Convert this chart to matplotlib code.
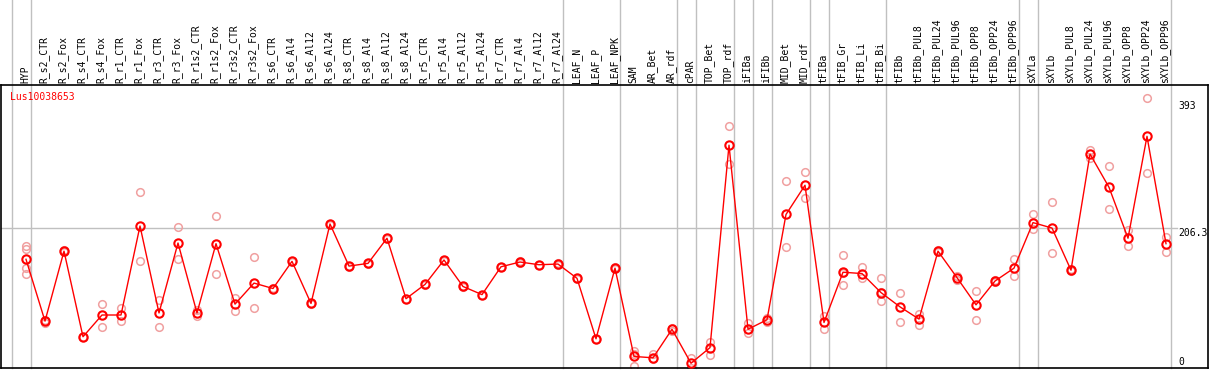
import numpy as np
import matplotlib
matplotlib.use('Agg')
import matplotlib.pyplot as plt
import matplotlib.transforms as mtransforms

# 样本名称
labels = ['HYP', 'R_s2_CTR', 'R_s2_Fox', 'R_s4_CTR', 'R_s4_Fox', 'R_r1_CTR', 'R_r1_Fox',
          'R_r3_CTR', 'R_r3_Fox', 'R_r1s2_CTR', 'R_r1s2_Fox', 'R_r3s2_CTR', 'R_r3s2_Fox',
          'R_s6_CTR', 'R_s6_Al4', 'R_s6_Al12', 'R_s6_Al24', 'R_s8_CTR', 'R_s8_Al4',
          'R_s8_Al12', 'R_s8_Al24', 'R_r5_CTR', 'R_r5_Al4', 'R_r5_Al12', 'R_r5_Al24',
          'R_r7_CTR', 'R_r7_Al4', 'R_r7_Al12', 'R_r7_Al24', 'LEAF_N', 'LEAF_P', 'LEAF_NPK',
          'SAM', 'AR_Bet', 'AR_rdf', 'cPAR', 'TOP_Bet', 'TOP_rdf', 'iFIBa', 'iFIBb',
          'MID_Bet', 'MID_rdf', 'tFIBa', 'tFIB_Gr', 'tFIB_Li', 'tFIB_Bi', 'tFIBb',
          'tFIBb_PUL8', 'tFIBb_PUL24', 'tFIBb_PUL96', 'tFIBb_OPP8', 'tFIBb_OPP24',
          'tFIBb_OPP96', 'sXYLa', 'sXYLb', 'sXYLb_PUL8', 'sXYLb_PUL24', 'sXYLb_PUL96',
          'sXYLb_OPP8', 'sXYLb_OPP24', 'sXYLb_OPP96']

# 平均值
means = [160, 69, 172, 46, 78, 78, 209, 81, 184, 81, 183, 94, 125,
         117, 157, 95, 212, 150, 154, 191, 102, 123, 159, 120, 108,
         149, 156, 152, 153, 132, 43, 147, 17, 15, 57, 7, 30, 328,
         57, 71, 226, 269, 67, 141, 139, 111, 90, 72, 172, 133, 93,
         128, 147, 214, 206, 144, 315, 266, 191, 341, 183]

# 重复样本
reps = [[180, 175, 147, 139], [70, 66], [173, 171], [46, 45], [94, 60], [88, 69],
        [259, 158], [100, 60], [207, 160], [85, 76], [224, 139], [103, 84], [163, 88],
        [118, 117], [158, 156], [96, 94], [212, 211], [150, 149], [155, 153], [192, 190],
        [102, 101], [124, 122], [159, 158], [121, 119], [108, 107], [149, 148], [157, 155],
        [152, 151], [154, 152], [133, 131], [43, 42], [148, 146], [25, 21, 3], [20, 13],
        [59, 55], [14, 0], [39, 19], [356, 301], [66, 51], [73, 68], [275, 178], [288, 250],
        [77, 58], [166, 140, 122], [149, 133], [132, 112, 98], [110, 67], [79, 64],
        [173, 171], [136, 130], [114, 71], [129, 127], [160, 135], [226, 204], [244, 169],
        [145, 143], [321, 309], [298, 234], [203, 179], [397, 287], [193, 171]]

# 分组分隔线 (在该索引之后)
group_ends = [-1, 0, 28, 31, 34, 35, 37, 38, 39, 41, 42, 45, 52, 53, 60]
gene = 'Lus10038653'
ymax_label = 393
ymid_label = 206.3

W, H = 1209, 370
fig = plt.figure(figsize=(W / 100, H / 100), dpi=100)
# 绘图区像素范围
left_px, right_px, top_px, bot_px = 1, 1208, 85, 368
ax = fig.add_axes([left_px / W, 1 - bot_px / H, (right_px - left_px) / W, (bot_px - top_px) / H])

x0, dx = 26, 19.0
ax.set_xlim((left_px - x0) / dx, (right_px - x0) / dx)
scale = ymax_label / 267.0
ax.set_ylim(0, (bot_px - top_px) * scale)

font = 'DejaVu Sans Mono'
x = np.arange(len(labels))

top_frac = bot_px / (bot_px - top_px)
for g in group_ends:
    ax.axvline(g + 0.247, ymin=0, ymax=top_frac, color='#c0c0c0', lw=1, clip_on=False, zorder=1)
ax.plot([ax.get_xlim()[0], 60.6], [ymid_label, ymid_label], color='#c0c0c0', lw=1, zorder=1)

for i, r in enumerate(reps):
    ax.plot([i] * len(r), r, 'o', ms=5.5, mfc='none', mec='#f0a0a0', mew=1.1, zorder=2)
ax.plot(x, means, '-', color='red', lw=1, zorder=3)
ax.plot(x, means, 'o', ms=6, mfc='none', mec='red', mew=1.5, zorder=4)

# 顶部标签
off = mtransforms.offset_copy(ax.transAxes, fig=fig, x=0, y=2, units='dots')
blend = mtransforms.blended_transform_factory(ax.transData, off)
for i, lab in enumerate(labels):
    ax.text(i - 0.05, 1.0, lab, rotation=90, ha='center', va='bottom', fontsize=7,
            family=font, transform=blend, clip_on=False)

ax.text((10 - x0) / dx, (368 - 97) * scale, gene, color='red', fontsize=7,
        family=font, va='center', ha='left')
rx = (1178 - x0) / dx
ax.text(rx, ymax_label, '393', fontsize=7, family=font, va='top', ha='left')
ax.text(rx, ymid_label, '206.3', fontsize=7, family=font, va='top', ha='left', clip_on=False)
ax.text(rx, 2, '0', fontsize=7, family=font, va='bottom', ha='left')

ax.set_xticks([])
ax.set_yticks([])
for s in ['top', 'left', 'bottom', 'right']:
    ax.spines[s].set_color('black')
    ax.spines[s].set_linewidth(1.2)

fig.savefig('out.png', dpi=100)
